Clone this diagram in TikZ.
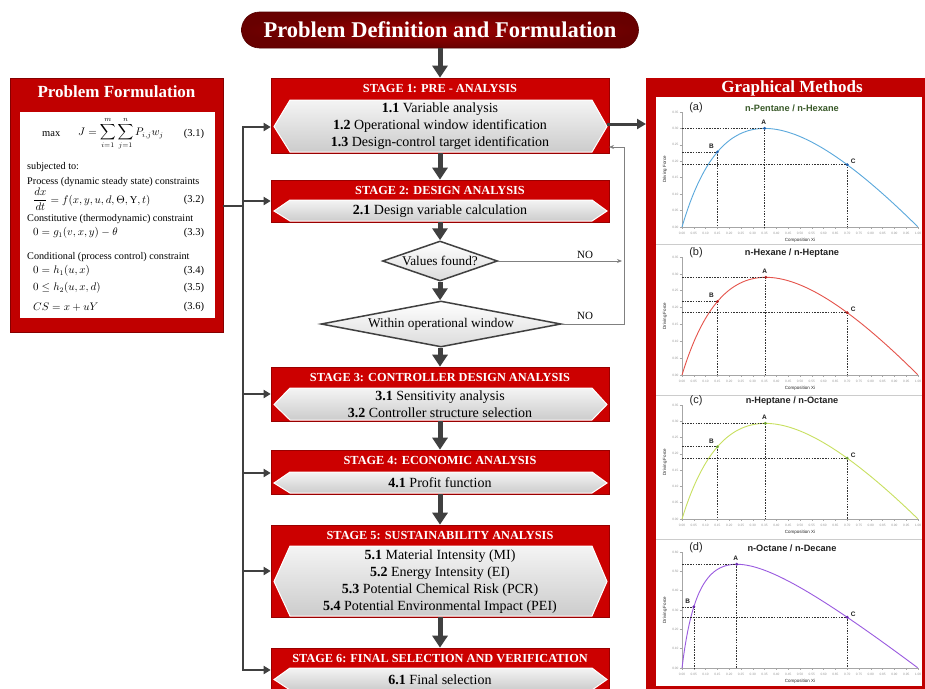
\documentclass[tikz,border=0pt]{standalone}
\usepackage{amsmath}
\usepackage{fontspec}
\setmainfont{Liberation Serif}
\newfontfamily\chartfont{Liberation Sans}
\usetikzlibrary{shapes.geometric,arrows.meta,shadings,calc}
\definecolor{stagered}{HTML}{CC0000}
\definecolor{panelred}{HTML}{C00000}
\definecolor{titlered}{HTML}{8B0000}
\definecolor{arrowgray}{HTML}{404040}
\definecolor{hexlight}{HTML}{F4F4F4}
\definecolor{hexdark}{HTML}{CCCCCC}
\definecolor{curvea}{HTML}{5AA8DC}
\definecolor{dota}{HTML}{1F5FAF}
\definecolor{curveb}{HTML}{E5534B}
\definecolor{dotb}{HTML}{B02020}
\definecolor{curvec}{HTML}{C8E060}
\definecolor{dotc}{HTML}{6AA030}
\definecolor{curved}{HTML}{9A5AE0}
\definecolor{dotd}{HTML}{6A2AB0}
\definecolor{titlea}{HTML}{3A5A2A}
\definecolor{titleo}{HTML}{222222}

\newcommand{\stagebox}[6]{%
  \pgfmathsetmacro\sbmid{(#2+#3)/2}%
  \pgfmathsetmacro\sbh{#3-#2}%
  \pgfmathsetmacro\hxmid{(#4+#3)/2}%
  \node[redbox, minimum width=338pt, minimum height=\sbh pt] (#1) at (440,\sbmid) {};
  \path[hexfill] (274,\hxmid) -- (290,#4) -- (592,#4) -- (607,\hxmid) -- (592,#3-1) -- (290,#3-1) -- cycle;
  \node[headtext] (#1h) at (440,#2+10.5) {#5};
  \node[bodytext] (#1b) at (440,\hxmid) {#6};
}

\newcommand{\dfchart}[9]{%
  % #1 label, #2 title, #3 axis y, #4 px per unit, #5 alpha, #6 id, #7 xB, #8 N ticks, #9 step
  \pgfmathsetmacro\ay{#3}%
  \pgfmathsetmacro\topy{#3-#8*#9*#4}%
  \pgfmathsetmacro\midy{(\ay+\topy)/2}%
  \draw[axisline] (682,\ay) -- (682,\topy);
  \draw[axisline] (682,\ay) -- (918,\ay);
  \foreach \k in {0,...,#8}{
    \pgfmathsetmacro\ty{\ay-\k*#9*#4}
    \pgfmathsetmacro\tv{\k*#9}
    \draw[axisline] (679.5,\ty) -- (682,\ty);
    \node[ticklabel, anchor=east] (yt#6\k) at (679,\ty) {\pgfmathprintnumber[fixed,precision=2,fixed zerofill,assume math mode=true]{\tv}};
  }
  \foreach \k in {0,...,20}{
    \pgfmathsetmacro\tx{682+11.8*\k}
    \pgfmathsetmacro\tv{\k*0.05}
    \draw[axisline] (\tx,\ay) -- (\tx,\ay+2);
    \node[ticklabel] (xt#6\k) at (\tx,\ay+6) {\pgfmathprintnumber[fixed,precision=2,fixed zerofill,assume math mode=true]{\tv}};
  }
  \node[axlabel, rotate=90] (yl#6) at (665,\midy) {Driving Force};
  \node[axlabel] (xl#6) at (800,\ay+13) {Composition Xi};
  \node[chartlabel] (lab#6) at (696,\topy-4) {#1};
  \node[charttitle] (tit#6) at (792,\topy-4) {#2};
  \draw[curve#6, line width=0.9pt] plot[domain=0:1, samples=120, smooth] ({682+236*\x},{\ay-#4*(#5*\x/(1+(#5-1)*\x)-\x)});
  \pgfmathsetmacro\xA{1/(1+sqrt(#5))}%
  \pgfmathsetmacro\xB{#7}%
  \pgfmathsetmacro\xC{0.7}%
  \pgfmathsetmacro\pxA{682+236*\xA}%
  \pgfmathsetmacro\pyA{\ay-#4*(#5*\xA/(1+(#5-1)*\xA)-\xA)}%
  \pgfmathsetmacro\pxB{682+236*\xB}%
  \pgfmathsetmacro\pyB{\ay-#4*(#5*\xB/(1+(#5-1)*\xB)-\xB)}%
  \pgfmathsetmacro\pxC{682+236*\xC}%
  \pgfmathsetmacro\pyC{\ay-#4*(#5*\xC/(1+(#5-1)*\xC)-\xC)}%
  \draw[guide] (682,\pyA) -- (\pxA,\pyA) -- (\pxA,\ay);
  \draw[guide] (682,\pyB) -- (\pxB,\pyB) -- (\pxB,\ay);
  \draw[guide] (682,\pyC) -- (\pxC,\pyC) -- (\pxC,\ay);
  \fill[dot#6] (\pxA,\pyA) circle (1.6pt);
  \fill[dot#6] (\pxB,\pyB) circle (1.6pt);
  \fill[dot#6] (\pxC,\pyC) circle (1.6pt);
  \node[ptlabel] (pA#6) at (\pxA-1,\pyA-6.5) {A};
  \node[ptlabel] (pB#6) at (\pxB-6,\pyB-6) {B};
  \node[ptlabel] (pC#6) at (\pxC+6,\pyC-3) {C};
}

\begin{document}
\begin{tikzpicture}[x=1pt,y=-1pt,
  redbox/.style={draw=stagered!75!black, line width=0.6pt, fill=stagered, inner sep=0pt},
  hexfill/.style={top color=hexlight, bottom color=hexdark, draw=white, line width=1pt},
  headtext/.style={text=white, font=\bfseries\fontsize{12.3}{13}\selectfont},
  bodytext/.style={font=\fontsize{14}{17}\selectfont, align=center, text=black, inner sep=0pt},
  bigarrow/.style={draw=arrowgray, line width=5pt, -{Triangle[length=12pt,width=15pt]}},
  branch/.style={draw=arrowgray, line width=2pt, -{Triangle[length=7pt,width=8pt]}},
  busline/.style={draw=arrowgray, line width=2pt},
  noline/.style={draw=gray, line width=0.8pt, -{Stealth[length=5pt,width=4pt]}},
  decision/.style={diamond, draw=arrowgray, line width=1.5pt, top color=white, bottom color=gray!28, inner sep=0pt, font=\fontsize{13.3}{15}\selectfont},
  ftext/.style={anchor=west, font=\fontsize{10.2}{11}\selectfont, inner sep=0pt},
  feq/.style={anchor=west, font=\fontsize{10.5}{12}\selectfont, inner sep=0pt},
  eqnum/.style={font=\fontsize{10.5}{12}\selectfont, inner sep=0pt},
  axisline/.style={draw=gray!70, line width=0.5pt},
  ticklabel/.style={font=\chartfont\fontsize{3.2}{3.2}\selectfont, text=gray!80, inner sep=0.3pt},
  axlabel/.style={font=\chartfont\fontsize{4.5}{5}\selectfont, text=gray!30!black, inner sep=0pt},
  chartlabel/.style={font=\chartfont\fontsize{11}{12}\selectfont, text=gray!30!black, inner sep=0pt},
  charttitle/.style={font=\chartfont\bfseries\fontsize{9.2}{10}\selectfont, text=titleo, inner sep=0pt},
  ptlabel/.style={font=\chartfont\bfseries\fontsize{6.5}{7}\selectfont, text=gray!25!black, inner sep=0pt},
  guide/.style={draw=black!80, line width=0.6pt, dash pattern=on 1.5pt off 1.2pt},
]
\useasboundingbox (0,0) rectangle (925,688);
\fill[white] (0,0) rectangle (925,688);

% title
\node[draw=titlered!60!black, line width=0.6pt, rounded corners=18pt, minimum width=397pt, minimum height=36pt, inner sep=0pt,
  inner color=titlered!85!red, outer color=titlered!75!black, text=white,
  font=\bfseries\fontsize{22.5}{26}\selectfont] (title) at (440,30) {Problem Definition and Formulation};

% stages
\stagebox{s1}{78}{153}{100}{STAGE 1: PRE - ANALYSIS}{\textbf{1.1} Variable analysis\\\textbf{1.2} Operational window identification\\\textbf{1.3} Design-control target identification}
\stagebox{s2}{180}{222}{200}{STAGE 2: DESIGN ANALYSIS}{\textbf{2.1} Design variable calculation}
\stagebox{s3}{367}{421}{388}{STAGE 3: CONTROLLER DESIGN ANALYSIS}{\textbf{3.1} Sensitivity analysis\\\textbf{3.2} Controller structure selection}
\stagebox{s4}{450}{494}{472}{STAGE 4: ECONOMIC ANALYSIS}{\textbf{4.1} Profit function}
\stagebox{s5}{525}{617}{546}{STAGE 5: SUSTAINABILITY ANALYSIS}{\textbf{5.1} Material Intensity (MI)\\\textbf{5.2} Energy Intensity (EI)\\\textbf{5.3} Potential Chemical Risk (PCR)\\\textbf{5.4} Potential Environmental Impact (PEI)}
\stagebox{s6}{648}{691}{668}{STAGE 6: FINAL SELECTION AND VERIFICATION}{\textbf{6.1} Final selection}

% decisions
\node[decision, minimum width=115pt, minimum height=40pt, aspect=2.9] (d1) at (440,261) {Values found?};
\node[decision, minimum width=240pt, minimum height=46pt, aspect=5.2] (d2) at (441,324) {Within operational window};

% main flow arrows
\draw[bigarrow] (title.south) -- (s1.north);
\draw[bigarrow] (s1.south) -- (s2.north);
\draw[bigarrow] (s2.south) -- (d1.north);
\draw[bigarrow] (d1.south) -- (d2.north -| d1.south);
\draw[bigarrow] (d2.south -| d1.south) -- (s3.north);
\draw[bigarrow] (s3.south) -- (s4.north);
\draw[bigarrow] (s4.south) -- (s5.north);
\draw[bigarrow] (s5.south) -- (s6.north);

% NO loops
\coordinate (no1) at (622,261);
\coordinate (fb1) at (624,324);
\coordinate (fb2) at (624,147);
\coordinate (s1in) at (609,147);
\draw[noline] (d1.east) -- (no1);
\draw[noline] (d2.east) -- (fb1) -- (fb2) -- (s1in);
\node[font=\fontsize{11}{12}\selectfont] (no1t) at (585,255) {NO};
\node[font=\fontsize{11}{12}\selectfont] (no2t) at (585,316) {NO};

% problem formulation panel
\node[fill=panelred, draw=panelred!70!black, line width=0.6pt, minimum width=213pt, minimum height=254pt, inner sep=0pt] (pf) at (116.5,205) {};
\node[text=white, font=\bfseries\fontsize{17}{19}\selectfont] (pft) at (116.5,92) {Problem Formulation};
\node[fill=white, minimum width=195pt, minimum height=206pt, inner sep=0pt] (pfw) at (117.5,215) {};
\node[feq] (fmax) at (42,134) {max};
\node[feq] (fJ) at (78,134) {$J=\displaystyle\sum_{i=1}^{m}\sum_{j=1}^{n}P_{i,j}w_j$};
\node[eqnum] (e31) at (194,134) {(3.1)};
\node[ftext] (f1) at (27,167) {subjected to:};
\node[ftext] (f2) at (27,182) {Process (dynamic steady state) constraints};
\node[feq] (f3) at (33,199.5) {$\dfrac{dx}{dt}=f(x,y,u,d,\Theta,\mathrm{Y},t)$};
\node[eqnum] (e32) at (194,199.5) {(3.2)};
\node[ftext] (f4) at (27,219) {Constitutive (thermodynamic) constraint};
\node[feq] (f5) at (33,233) {$0=g_1(v,x,y)-\theta$};
\node[eqnum] (e33) at (194,233) {(3.3)};
\node[ftext] (f6) at (27,257) {Conditional (process control) constraint};
\node[feq] (f7) at (33,271) {$0=h_1(u,x)$};
\node[eqnum] (e34) at (194,271) {(3.4)};
\node[feq] (f8) at (33,288) {$0\le h_2(u,x,d)$};
\node[eqnum] (e35) at (194,288) {(3.5)};
\node[feq] (f9) at (33,307) {$CS=x+uY$};
\node[eqnum] (e36) at (194,307) {(3.6)};

% bus from left
\coordinate (pfout) at (243,206);
\coordinate (bus1) at (243,127);
\coordinate (bus2) at (243,201);
\coordinate (bus3) at (243,394);
\coordinate (bus4) at (243,473);
\coordinate (bus5) at (243,571);
\coordinate (bus6) at (243,670);
\draw[busline] (pf.east |- pfout) -- (pfout);
\draw[busline, line cap=rect] (bus1) -- (bus6);
\draw[branch] (bus1) -- (bus1 -| s1.west);
\draw[branch] (bus2) -- (bus2 -| s2.west);
\draw[branch] (bus3) -- (bus3 -| s3.west);
\draw[branch] (bus4) -- (bus4 -| s4.west);
\draw[branch] (bus5) -- (bus5 -| s5.west);
\draw[branch] (bus6) -- (bus6 -| s6.west);

% graphical methods panel
\node[fill=panelred, minimum width=280pt, minimum height=612pt, inner sep=0pt, anchor=north west] (gm) at (646,78) {};
\node[text=white, font=\bfseries\fontsize{17}{19}\selectfont] (gmt) at (792,88) {Graphical Methods};
\node[fill=white, minimum width=266pt, minimum height=589pt, inner sep=0pt, anchor=north west] (gmw) at (656,97) {};
\coordinate (s1r) at (607,124);
\draw[draw=arrowgray, line width=3pt, -{Triangle[length=9pt,width=10pt]}] (s1r) -- (s1r -| gm.west);

\draw[gray!40, line width=0.6pt] (656,244) -- (922,244);
\draw[gray!40, line width=0.6pt] (656,395) -- (922,395);
\draw[gray!40, line width=0.6pt] (656,539) -- (922,539);

\dfchart{(a)}{\textcolor{titlea}{n-Pentane / n-Hexane}}{227}{328.6}{3.45}{a}{0.15}{7}{0.05}
\dfchart{(b)}{n-Hexane / n-Heptane}{375}{337}{3.3}{b}{0.15}{7}{0.05}
\dfchart{(c)}{n-Heptane / n-Octane}{519}{326}{3.35}{c}{0.15}{7}{0.05}
\dfchart{(d)}{n-Octane / n-Decane}{668}{193.3}{11}{d}{0.05}{6}{0.1}

\end{tikzpicture}
\end{document}
